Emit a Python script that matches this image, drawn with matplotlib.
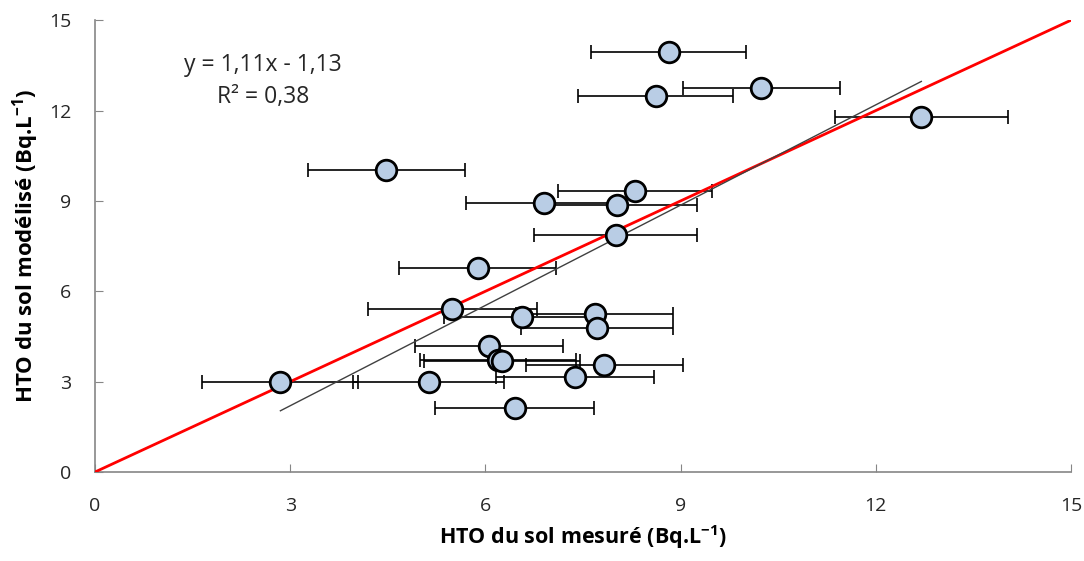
import matplotlib
matplotlib.use("Agg")
import matplotlib.pyplot as plt
import numpy as np

plt.rcParams['font.family'] = ['Open Sans', 'DejaVu Sans']

# measured (x), modelled (y), x-uncertainty (half width)
measured = [8.82, 10.24, 8.62, 12.70, 4.48, 8.30, 6.90, 8.02, 8.00, 5.88,
            5.49, 6.56, 7.68, 7.71, 6.06, 6.20, 6.25, 7.83, 7.38, 2.85, 5.13, 6.45]
modelled = [13.94, 12.75, 12.48, 11.77, 10.02, 9.34, 8.92, 8.88, 7.87, 6.76,
            5.41, 5.13, 5.26, 4.77, 4.17, 3.73, 3.68, 3.56, 3.17, 3.00, 3.00, 2.11]
x_err = [1.19, 1.21, 1.19, 1.33, 1.20, 1.18, 1.20, 1.23, 1.26, 1.21,
         1.30, 1.19, 1.21, 1.17, 1.14, 1.20, 1.20, 1.20, 1.21, 1.20, 1.16, 1.22]

slope, intercept = 1.11, -1.13
eq_text = "y = 1,11x - 1,13\nR² = 0,38"
ticks = [0, 3, 6, 9, 12, 15]

fig = plt.figure(figsize=(10.84, 5.61), dpi=100)
ax = fig.add_axes([0.0876, 0.1586, 0.9004, 0.8054])

ax.errorbar(measured, modelled, xerr=x_err, fmt='none', ecolor='black',
            elinewidth=1.2, capsize=5, capthick=1.2, zorder=2)

# 1:1 line
ax.plot([0, 15], [0, 15], color='#FF0000', lw=2, zorder=3)

# trend line
xs = np.array([min(measured), max(measured)])
ax.plot(xs, slope * xs + intercept, color='#404040', lw=1, zorder=3)

ax.scatter(measured, modelled, s=220, facecolor='#B9CDE5', edgecolor='black',
           linewidth=2, zorder=4)

ax.set_xlim(0, 15)
ax.set_ylim(0, 15)
ax.set_xticks(ticks)
ax.set_yticks(ticks)
ax.tick_params(direction='in', length=6, color='#868686', labelsize=14,
               labelcolor='#262626')
ax.tick_params(axis='y', pad=17)
ax.tick_params(axis='x', pad=18)
for s in ['top', 'right']:
    ax.spines[s].set_visible(False)
for s in ['left', 'bottom']:
    ax.spines[s].set_color('#868686')
    ax.spines[s].set_linewidth(1.2)

ax.set_xlabel("HTO du sol mesuré (Bq.L$^{\\mathregular{-1}}$)", fontsize=15.5,
              fontweight='bold', labelpad=6)
ax.set_ylabel("HTO du sol modélisé (Bq.L$^{\\mathregular{-1}}$)", fontsize=16,
              fontweight='bold', labelpad=6)

ax.text(2.58, 12.97, eq_text, ha='center', va='center', fontsize=16.5,
        linespacing=1.45, color='#262626')

fig.savefig('out.png', dpi=100)
